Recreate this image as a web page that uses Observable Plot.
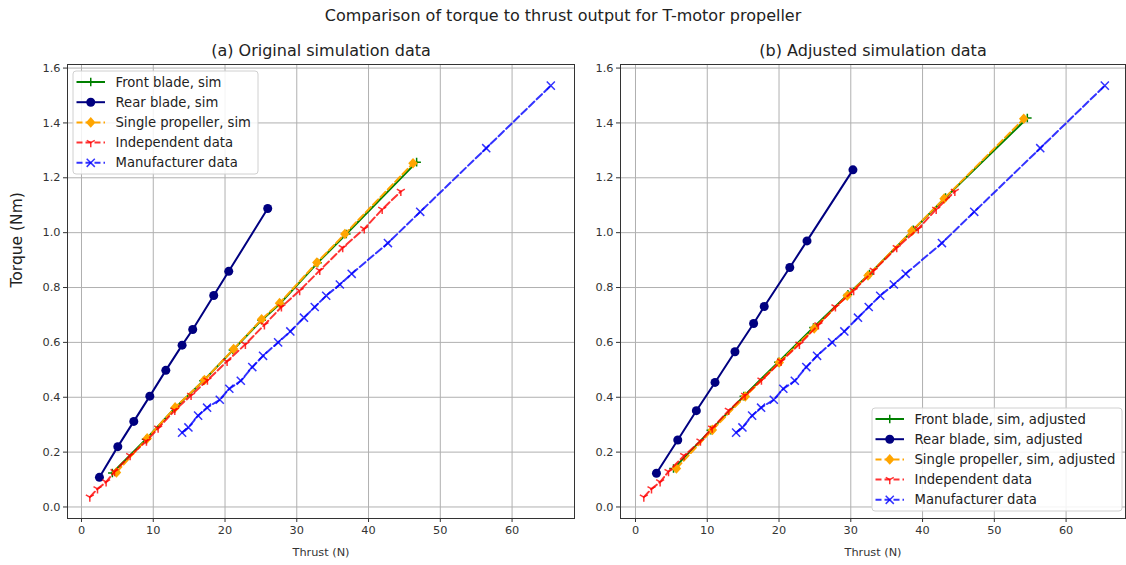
<!DOCTYPE html>
<html><head><meta charset="utf-8">
<script src="https://cdn.jsdelivr.net/npm/d3@7"></script>
<script src="https://cdn.jsdelivr.net/npm/@observablehq/plot@0.6"></script>
<style>
body{margin:0;background:#fff;font-family:"DejaVu Sans",sans-serif;}
#wrap{width:1126px;height:565px;position:relative;overflow:hidden;background:#fff}
#title{position:absolute;left:0;top:6px;width:1126px;text-align:center;font-size:16px;color:#222;line-height:20px}
#row{position:absolute;left:0;top:30px;display:flex}
svg{font-family:"DejaVu Sans",sans-serif;}
</style></head><body>
<div id="wrap"><div id="title">Comparison of torque to thrust output for T-motor propeller</div><div id="row"></div></div>
<script>
// ---------- data ----------
const xTicks = [0, 10, 20, 30, 40, 50, 60];
const yTicks = [0, 0.2, 0.4, 0.6, 0.8, 1.0, 1.2, 1.4, 1.6];

// (a) original simulation
const frontThrustA = [4.3, 9.0, 13.0, 17.0, 21.1, 25.1, 27.7, 32.9, 36.9, 46.7];
const frontTorqueA = [0.124, 0.247, 0.360, 0.460, 0.572, 0.681, 0.742, 0.890, 0.995, 1.257];
const rearThrustA = [2.5, 5.06, 7.29, 9.52, 11.75, 14.02, 15.5, 18.43, 20.52, 25.95];
const rearTorqueA = [0.108, 0.220, 0.312, 0.404, 0.498, 0.590, 0.647, 0.771, 0.859, 1.088];
const singleThrustA = [4.87, 9.15, 13.05, 17.13, 21.2, 25.1, 27.6, 32.8, 36.7, 46.2];
const singleTorqueA = [0.126, 0.250, 0.363, 0.463, 0.576, 0.684, 0.743, 0.891, 0.995, 1.253];

// (b) adjusted simulation
const frontThrustB = [5.3, 10.5, 15.1, 19.9, 24.8, 29.6, 32.6, 38.7, 43.2, 54.6];
const frontTorqueB = [0.140, 0.280, 0.404, 0.528, 0.654, 0.775, 0.849, 1.010, 1.128, 1.418];
const rearThrustB = [2.92, 5.89, 8.48, 11.08, 13.86, 16.46, 17.94, 21.5, 23.9, 30.3];
const rearTorqueB = [0.123, 0.244, 0.351, 0.454, 0.566, 0.669, 0.731, 0.873, 0.970, 1.229];
const singleThrustB = [5.70, 10.71, 15.3, 20.03, 24.9, 29.5, 32.4, 38.5, 43.0, 54.1];
const singleTorqueB = [0.140, 0.281, 0.403, 0.527, 0.651, 0.770, 0.844, 1.006, 1.124, 1.415];

// measured data (same in both panels)
const indepThrust = [1.16, 2.23, 3.43, 4.6, 6.78, 9.05, 10.68, 13.0, 15.27, 17.55, 20.29, 22.84, 25.49, 27.86, 30.4, 33.2, 36.4, 39.4, 41.9, 44.5];
const indepTorque = [0.036, 0.066, 0.091, 0.129, 0.187, 0.240, 0.287, 0.352, 0.407, 0.462, 0.531, 0.593, 0.664, 0.729, 0.789, 0.862, 0.945, 1.014, 1.085, 1.150];
const manuThrust = [14.02, 14.9, 16.25, 17.5, 19.27, 20.6, 22.2, 23.8, 25.3, 27.4, 29.1, 31.0, 32.5, 34.1, 36.0, 37.65, 42.7, 47.2, 56.4, 65.4];
const manuTorque = [0.271, 0.290, 0.333, 0.362, 0.391, 0.431, 0.460, 0.510, 0.551, 0.600, 0.640, 0.690, 0.729, 0.770, 0.811, 0.850, 0.962, 1.076, 1.308, 1.536];

const namesA = ["Front blade, sim", "Rear blade, sim", "Single propeller, sim", "Independent data", "Manufacturer data"];
const namesB = ["Front blade, sim, adjusted", "Rear blade, sim, adjusted", "Single propeller, sim, adjusted", "Independent data", "Manufacturer data"];

// ---------- marker symbols ----------
const rad = s => Math.sqrt(s / Math.PI);
const symPlus = {draw(c, s){const r = rad(s); c.moveTo(-r,0); c.lineTo(r,0); c.moveTo(0,-r); c.lineTo(0,r);}};
const symX = {draw(c, s){const r = rad(s)*0.75; c.moveTo(-r,-r); c.lineTo(r,r); c.moveTo(-r,r); c.lineTo(r,-r);}};
const symTri = {draw(c, s){const r = rad(s); c.moveTo(0,0); c.lineTo(0,r); c.moveTo(0,0); c.lineTo(-r*0.866,-r*0.5); c.moveTo(0,0); c.lineTo(r*0.866,-r*0.5);}};
const symDiamond = {draw(c, s){const r = rad(s); c.moveTo(0,-r); c.lineTo(r*0.9,0); c.lineTo(0,r); c.lineTo(-r*0.9,0); c.closePath();}};
const symCircle = {draw(c, s){const r = rad(s); c.moveTo(r,0); c.arc(0,0,r,0,2*Math.PI);}};

const styles = [
  {color:"#008000", dash:null, symbol:symPlus, r:4.3, filled:false, op:1},
  {color:"#000080", dash:null, symbol:symCircle, r:4.5, filled:true, op:1},
  {color:"#ffa500", dash:"7.4,3.2", symbol:symDiamond, r:5.3, filled:true, op:1},
  {color:"#ff0000", dash:"7.4,3.2", symbol:symTri, r:4.6, filled:false, op:0.8},
  {color:"#0000ff", dash:"7.4,3.2", symbol:symX, r:5.4, filled:false, op:0.8}
];

const toRows = (xs, ys) => xs.map((x, i) => ({x, y: ys[i]}));

function legend(names, bx, by, bw, bh) {
  return () => {
    const g = d3.create("svg:g").attr("text-anchor", "start");
    g.append("rect").attr("x", bx).attr("y", by).attr("width", bw).attr("height", bh)
      .attr("rx", 3).attr("fill", "#fff").attr("fill-opacity", 0.85).attr("stroke", "#d0d0d0");
    names.forEach((name, i) => {
      const st = styles[i];
      const y = by + 11 + i * 20.2;
      const hx0 = bx + 3.5, hx1 = bx + 32;
      g.append("line").attr("x1", hx0).attr("x2", hx1).attr("y1", y).attr("y2", y)
        .attr("stroke", st.color).attr("stroke-width", 2).attr("stroke-opacity", st.op)
        .attr("stroke-dasharray", st.dash ? "6,3" : null);
      g.append("path").attr("transform", `translate(${(hx0 + hx1) / 2},${y})`)
        .attr("d", d3.symbol(st.symbol, Math.PI * st.r * st.r)())
        .attr("fill", st.filled ? st.color : "none")
        .attr("stroke", st.filled ? "none" : st.color)
        .attr("stroke-width", 1.5).attr("opacity", st.op);
      g.append("text").attr("x", bx + 42.5).attr("y", y).attr("dy", "0.35em")
        .attr("text-anchor", "start")
        .attr("font-size", 13.2).attr("fill", "#222").text(name);
    });
    return g.node();
  };
}

function panel(opts) {
  const series = opts.series;
  const marks = [
    Plot.gridX(xTicks, {stroke: "#b0b0b0", strokeOpacity: 1, strokeWidth: 1}),
    Plot.gridY(yTicks, {stroke: "#b0b0b0", strokeOpacity: 1, strokeWidth: 1})
  ];
  series.forEach((rows, i) => {
    const st = styles[i];
    marks.push(Plot.line(rows, {x: "x", y: "y", stroke: st.color, strokeWidth: 2, strokeOpacity: st.op,
      strokeDasharray: st.dash || undefined}));
    marks.push(Plot.dot(rows, {x: "x", y: "y", symbol: st.symbol, r: st.r,
      fill: st.filled ? st.color : "none", stroke: st.filled ? "none" : st.color,
      strokeWidth: 1.5, opacity: st.op}));
  });
  marks.push(
    Plot.frame({stroke: "#333", strokeWidth: 1}),
    Plot.axisX(xTicks, {tickSize: 4, tickPadding: 3, fontSize: 11.3, label: null, stroke: "#333", fill: "#333"}),
    Plot.axisY(yTicks, {tickSize: 4, tickPadding: 3, fontSize: 11.3, label: null, tickFormat: d => d.toFixed(1), stroke: "#333", fill: "#333"}),
    Plot.text([opts.subtitle], {text: d => d, frameAnchor: "top", lineAnchor: "middle", dy: -14, fontSize: 16, fill: "#222"}),
    Plot.text(["Thrust (N)"], {text: d => d, frameAnchor: "bottom", lineAnchor: "middle", dy: 34, fontSize: 11.3, fill: "#333"}),
    legend(opts.names, opts.lx, opts.ly, opts.lw, opts.lh)
  );
  if (opts.ylabel) marks.push(Plot.text([opts.ylabel], {text: d => d, frameAnchor: "left", lineAnchor: "middle", rotate: -90, dx: -50, dy: -4, fontSize: 15.5, fill: "#222"}));
  return Plot.plot({
    width: opts.width, height: 535,
    marginLeft: opts.ml, marginRight: opts.mr, marginTop: 34, marginBottom: 47,
    x: {domain: opts.xDomain, axis: null},
    y: {domain: [-0.042, 1.613], axis: null},
    style: {fontFamily: "'DejaVu Sans', sans-serif", background: "#fff", overflow: "visible"},
    marks
  });
}

const row = document.getElementById("row");
row.append(panel({
  width: 593, ml: 67, mr: 19, xDomain: [-1.95, 68.7],
  subtitle: "(a) Original simulation data", ylabel: "Torque (Nm)",
  names: namesA, lx: 73, ly: 41, lw: 185, lh: 103,
  series: [toRows(frontThrustA, frontTorqueA), toRows(rearThrustA, rearTorqueA), toRows(singleThrustA, singleTorqueA),
           toRows(indepThrust, indepTorque), toRows(manuThrust, manuTorque)]
}));
row.append(panel({
  width: 533, ml: 27, mr: 1, xDomain: [-2.09, 68.28],
  subtitle: "(b) Adjusted simulation data",
  names: namesB, lx: 279, ly: 378, lw: 250, lh: 103,
  series: [toRows(frontThrustB, frontTorqueB), toRows(rearThrustB, rearTorqueB), toRows(singleThrustB, singleTorqueB),
           toRows(indepThrust, indepTorque), toRows(manuThrust, manuTorque)]
}));
</script>
</body></html>
